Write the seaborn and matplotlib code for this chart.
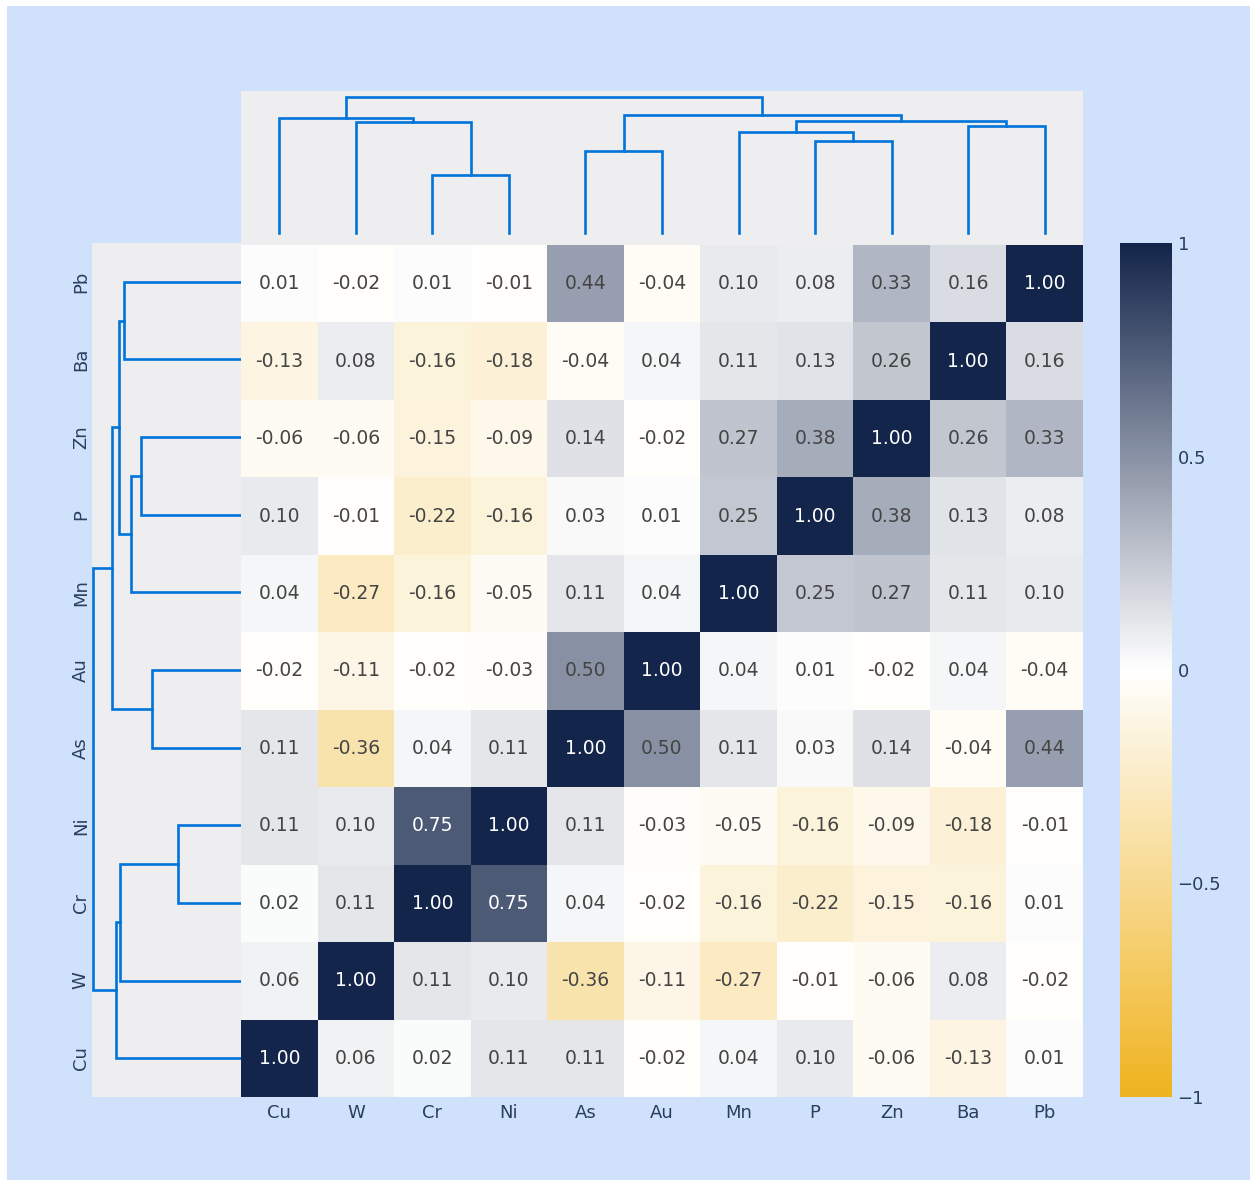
import numpy as np
import pandas as pd
import matplotlib
matplotlib.use("Agg")
import matplotlib.pyplot as plt
from matplotlib.colors import LinearSegmentedColormap
from matplotlib.patches import Rectangle
import seaborn as sns

plt.rcParams["font.family"] = ["DejaVu Sans"]

# Elements in dendrogram leaf order
elements = ["Cu", "W", "Cr", "Ni", "As", "Au", "Mn", "P", "Zn", "Ba", "Pb"]

# Correlation rows (columns follow the same element order)
corr_cu = [1.00, 0.06, 0.02, 0.11, 0.11, -0.02, 0.04, 0.10, -0.06, -0.13, 0.01]
corr_w = [0.06, 1.00, 0.11, 0.10, -0.36, -0.11, -0.27, -0.01, -0.06, 0.08, -0.02]
corr_cr = [0.02, 0.11, 1.00, 0.75, 0.04, -0.02, -0.16, -0.22, -0.15, -0.16, 0.01]
corr_ni = [0.11, 0.10, 0.75, 1.00, 0.11, -0.03, -0.05, -0.16, -0.09, -0.18, -0.01]
corr_as = [0.11, -0.36, 0.04, 0.11, 1.00, 0.50, 0.11, 0.03, 0.14, -0.04, 0.44]
corr_au = [-0.02, -0.11, -0.02, -0.03, 0.50, 1.00, 0.04, 0.01, -0.02, 0.04, -0.04]
corr_mn = [0.04, -0.27, -0.16, -0.05, 0.11, 0.04, 1.00, 0.25, 0.27, 0.11, 0.10]
corr_p = [0.10, -0.01, -0.22, -0.16, 0.03, 0.01, 0.25, 1.00, 0.38, 0.13, 0.08]
corr_zn = [-0.06, -0.06, -0.15, -0.09, 0.14, -0.02, 0.27, 0.38, 1.00, 0.26, 0.33]
corr_ba = [-0.13, 0.08, -0.16, -0.18, -0.04, 0.04, 0.11, 0.13, 0.26, 1.00, 0.16]
corr_pb = [0.01, -0.02, 0.01, -0.01, 0.44, -0.04, 0.10, 0.08, 0.33, 0.16, 1.00]

# Hierarchical clustering merges (leaf ids 0..10, new clusters numbered from 11)
link_a = [2, 1, 0, 4, 7, 6, 9, 16, 14, 13]
link_b = [3, 11, 12, 5, 8, 15, 10, 17, 18, 19]
link_h = [0.58, 1.11, 1.15, 0.82, 0.92, 1.01, 1.07, 1.12, 1.18, 1.36]

cbar_ticks = [-1, -0.5, 0, 0.5, 1]
cbar_labels = ["\u22121", "\u22120.5", "0", "0.5", "1"]

corr = pd.DataFrame(
    [corr_cu, corr_w, corr_cr, corr_ni, corr_as, corr_au,
     corr_mn, corr_p, corr_zn, corr_ba, corr_pb],
    index=elements, columns=elements,
)

BG = "#d0e1fc"
PANEL = "#eeeef0"
LINE = "#0074d9"
TXT = "#2a3f5f"

W, H = 1250, 1180
fig = plt.figure(figsize=(W / 100, H / 100), dpi=100, facecolor="white")
fig.patches.append(Rectangle((7 / W, 0), 1, 1 - 6 / H, transform=fig.transFigure,
                             facecolor=BG, edgecolor="none", zorder=-10))


def fx(px):
    return px / W


def fy(px):
    return 1 - px / H


ax_hm = fig.add_axes([fx(241), fy(1097), fx(1083) - fx(241), fy(245) - fy(1097)])
ax_top = fig.add_axes([fx(241), fy(245), fx(1083) - fx(241), fy(91) - fy(245)])
ax_left = fig.add_axes([fx(92), fy(1097), fx(241) - fx(92), fy(243) - fy(1097)])
ax_cb = fig.add_axes([fx(1120), fy(1097), fx(1172) - fx(1120), fy(243) - fy(1097)])

cmap = LinearSegmentedColormap.from_list("gold_navy", ["#efb31f", "#ffffff", "#13254a"])

shown = corr.iloc[::-1]
sns.heatmap(shown, ax=ax_hm, cbar_ax=ax_cb, cmap=cmap, vmin=-1, vmax=1,
            annot=True, fmt=".2f", annot_kws={"size": 13.5},
            xticklabels=elements, yticklabels=False, linewidths=0)

vals = shown.values.ravel()
for t, v in zip(ax_hm.texts, vals):
    t.set_color("white" if v > 0.6 else "#444444")

ax_hm.tick_params(axis="x", length=0, pad=5, labelsize=13, labelcolor=TXT)
for lbl in ax_hm.get_xticklabels():
    lbl.set_rotation(0)
ax_hm.set_xlabel("")
ax_hm.set_ylabel("")

cbar = ax_hm.collections[0].colorbar
cbar.outline.set_visible(False)
cbar.set_ticks(cbar_ticks)
cbar.set_ticklabels(cbar_labels)
ax_cb.tick_params(length=0, pad=4, labelsize=13, labelcolor=TXT)


def dendro_segments(a_ids, b_ids, heights, n):
    pos = {i: i + 0.5 for i in range(n)}
    hgt = {i: 0.0 for i in range(n)}
    segs = []
    for k, (a, b, h) in enumerate(zip(a_ids, b_ids, heights)):
        xa, xb = pos[a], pos[b]
        segs.append(([xa, xa, xb, xb], [hgt[a], h, h, hgt[b]]))
        pos[n + k] = (xa + xb) / 2
        hgt[n + k] = h
    return segs


segs = dendro_segments(link_a, link_b, link_h, len(elements))

# Column dendrogram
for xs, hs in segs:
    ax_top.plot(xs, hs, color=LINE, lw=1.9, solid_joinstyle="miter", clip_on=False)
ax_top.set_xlim(0, len(elements))
ax_top.set_ylim(-0.12, 1.42)
ax_top.set_facecolor(PANEL)
ax_top.set_xticks([])
ax_top.set_yticks([])
for s in ax_top.spines.values():
    s.set_visible(False)

# Row dendrogram
for ys, hs in segs:
    ax_left.plot(hs, ys, color=LINE, lw=1.9, solid_joinstyle="miter", clip_on=False)
ax_left.set_ylim(0, len(elements))
ax_left.set_xlim(1.367, 0)
ax_left.set_facecolor(PANEL)
ax_left.set_xticks([])
ax_left.set_yticks(np.arange(len(elements)) + 0.5)
ax_left.set_yticklabels(elements)
ax_left.tick_params(axis="y", length=0, pad=8, labelsize=13, labelcolor=TXT)
for lbl in ax_left.get_yticklabels():
    lbl.set_rotation(90)
    lbl.set_ha("center")
    lbl.set_va("center")
for s in ax_left.spines.values():
    s.set_visible(False)

ax_hm.set_zorder(3)
fig.savefig("out.png", dpi=100, facecolor=fig.get_facecolor())
